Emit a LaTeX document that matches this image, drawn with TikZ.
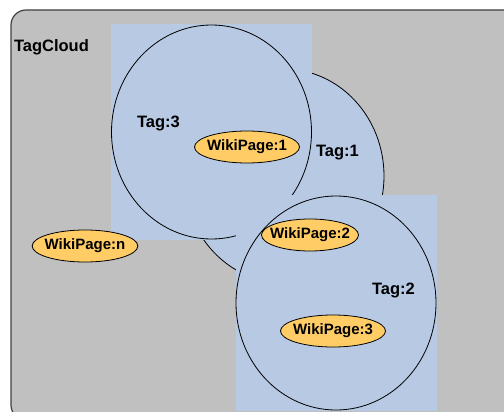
\documentclass[tikz,border=0pt]{standalone}
\usepackage{fontspec}
\setmainfont{Liberation Sans}
\usetikzlibrary{shapes.geometric}
\definecolor{cloudgray}{RGB}{192,192,192}
\definecolor{tagblue}{RGB}{183,201,227}
\definecolor{pageorange}{RGB}{255,204,102}

\begin{document}
\begin{tikzpicture}[x=1pt, y=-1pt, every node/.style={inner sep=0pt, outer sep=0pt},
    tagbox/.style={fill=tagblue, minimum width=201pt, minimum height=216pt},
    tagcircle/.style={ellipse, draw, fill=tagblue, line width=0.8pt, minimum width=200pt, minimum height=214pt},
    page/.style={ellipse, draw, fill=pageorange, line width=0.8pt, inner xsep=-3pt, minimum width=105pt, minimum height=32pt, font=\fontsize{15}{18}\selectfont\bfseries},
    taglabel/.style={anchor=base west, font=\fontsize{16.5}{19}\selectfont\bfseries}]
    \useasboundingbox (0,0) rectangle (504,412);
    \clip (0,0) rectangle (504,412);
    \node[draw=black!75, line width=1.2pt, fill=cloudgray, rounded corners=15pt, minimum width=520pt, minimum height=410pt, anchor=north west] (cloud) at (11,10) {};
    % tags
    \node[tagcircle] (tag1) at (284,176) {};
    \node[tagbox] (box3) at (211.5,132) {};
    \node[tagcircle] (tag3) at (box3) {};
    \node[tagbox] (box2) at (336,303) {};
    \node[tagcircle] (tag2) at (box2) {};
    \node[taglabel] (cloudlabel) at (14,52) {TagCloud};
    \node[taglabel] (tag3label) at (137,128) {Tag:3};
    \node[taglabel] (tag1label) at (316,157) {Tag:1};
    \node[taglabel] (tag2label) at (372,294) {Tag:2};
    % pages
    \node[page] (page1) at (247,147) {WikiPage:1};
    \node[page] (pagen) at (85,246) {WikiPage:n};
    \node[page, inner xsep=-6pt, minimum width=97pt] (page2) at (310,235) {WikiPage:2};
    \node[page] (page3) at (333,331) {WikiPage:3};
  \end{tikzpicture}
\end{document}
